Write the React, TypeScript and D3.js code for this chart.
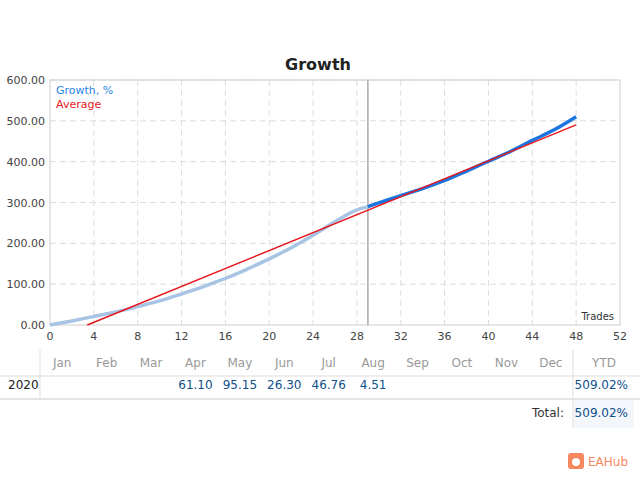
import * as d3 from "d3";

const trades = [0, 2, 4, 6, 8, 10, 12, 14, 16, 18, 20, 22, 24, 26, 28, 29, 30, 32, 34, 36, 38, 40, 42, 44, 46, 48];
const growth = [0, 10, 21, 32, 45, 59, 76, 94, 114, 137, 162, 189, 220, 253, 282, 290, 299, 317, 334, 354, 377, 401, 425, 452, 478, 510];
const averageTrades = [3.4, 48];
const averageValues = [0, 490];
const months = ["Jan", "Feb", "Mar", "Apr", "May", "Jun", "Jul", "Aug", "Sep", "Oct", "Nov", "Dec"];
const monthly = ["", "", "", "61.10", "95.15", "26.30", "46.76", "4.51", "", "", "", ""];
const xTicks = d3.range(0, 53, 4);
const yTicks = d3.range(0, 601, 100);
const splitAt = 29;

export default function App() {
  const W = 640, H = 480;
  const x = d3.scaleLinear().domain([0, 52]).range([50, 620]);
  const y = d3.scaleLinear().domain([0, 600]).range([325, 80]);
  const line = d3.line<[number, number]>().x((d) => x(d[0])).y((d) => y(d[1])).curve(d3.curveMonotoneX);
  const pts: [number, number][] = trades.map((t, i) => [t, growth[i]]);
  const before = pts.filter((p) => p[0] <= splitAt);
  const after = pts.filter((p) => p[0] >= splitAt);
  const avg: [number, number][] = averageTrades.map((t, i) => [t, averageValues[i]]);
  const font = "Tahoma, 'DejaVu Sans', sans-serif";
  const colX = d3.scaleBand().domain(months).range([40, 573]);
  const grey = "#999";
  const blue = "#0d4f8b";
  return (
    <svg width={W} height={H} style={{ position: "absolute", left: 0, top: 0 }} fontFamily={font}>
      <rect width={W} height={H} fill="#fff" />
      <text x={318} y={70} textAnchor="middle" fontSize={16} fontWeight="bold" fill="#222">Growth</text>
      {xTicks.slice(1, -1).map((t) => (
        <line key={"gx" + t} x1={x(t)} x2={x(t)} y1={80} y2={325} stroke="#ddd" strokeDasharray="6,4" />
      ))}
      {yTicks.slice(1).map((t) => (
        <line key={"gy" + t} x1={50} x2={620} y1={y(t)} y2={y(t)} stroke="#ddd" strokeDasharray="6,4" />
      ))}
      <rect x={50} y={80} width={570} height={245} fill="none" stroke="#ccc" />
      {yTicks.map((t) => (
        <text key={"yl" + t} x={45} y={y(t) + 4} textAnchor="end" fontSize={11} fill="#444">{t.toFixed(2)}</text>
      ))}
      {xTicks.map((t) => (
        <text key={"xl" + t} x={x(t)} y={340} textAnchor="middle" fontSize={11} fill="#444">{t}</text>
      ))}
      <line x1={x(splitAt)} x2={x(splitAt)} y1={80} y2={325} stroke="#aaa" strokeWidth={1.5} />
      <path d={line(before) ?? ""} fill="none" stroke="#a8c4e4" strokeWidth={3.5} />
      <path d={line(after) ?? ""} fill="none" stroke="#1a75e0" strokeWidth={3.5} />
      <path d={d3.line()(avg.map((p) => [x(p[0]), y(p[1])])) ?? ""} fill="none" stroke="#e8161b" strokeWidth={1.5} />
      <text x={56} y={94} fontSize={11} fill="#2a86e8">Growth, %</text>
      <text x={56} y={108} fontSize={11} fill="#e8161b">Average</text>
      <text x={614} y={320} textAnchor="end" fontSize={10} fill="#333">Trades</text>

      <line x1={40} x2={40} y1={350} y2={399} stroke="#ddd" />
      <line x1={573} x2={573} y1={350} y2={428} stroke="#ddd" />
      <line x1={0} x2={640} y1={376} y2={376} stroke="#ddd" />
      <line x1={0} x2={640} y1={399} y2={399} stroke="#ddd" strokeWidth={1.5} />
      <rect x={574} y={400} width={60} height={28} fill="#f3f6fb" />
      {months.map((m, i) => (
        <g key={m}>
          <text x={(colX(m) ?? 0) + colX.bandwidth() / 2} y={367} textAnchor="middle" fontSize={12} fill={grey}>{m}</text>
          <text x={(colX(m) ?? 0) + colX.bandwidth() / 2} y={389} textAnchor="middle" fontSize={12} fill={blue}>{monthly[i]}</text>
        </g>
      ))}
      <text x={604} y={367} textAnchor="middle" fontSize={12} fill={grey}>YTD</text>
      <text x={8} y={389} fontSize={12} fill="#222">2020</text>
      <text x={628} y={389} textAnchor="end" fontSize={12} fill={blue}>509.02%</text>
      <text x={564} y={417} textAnchor="end" fontSize={12} fill="#333">Total:</text>
      <text x={628} y={417} textAnchor="end" fontSize={12} fill={blue}>509.02%</text>

      <rect x={568} y={453} width={16} height={16} rx={3} fill="#f7875f" />
      <circle cx={576} cy={462} r={4} fill="#fff" />
      <text x={588} y={466} fontSize={12} fill="#f7875f">EAHub</text>
    </svg>
  );
}
